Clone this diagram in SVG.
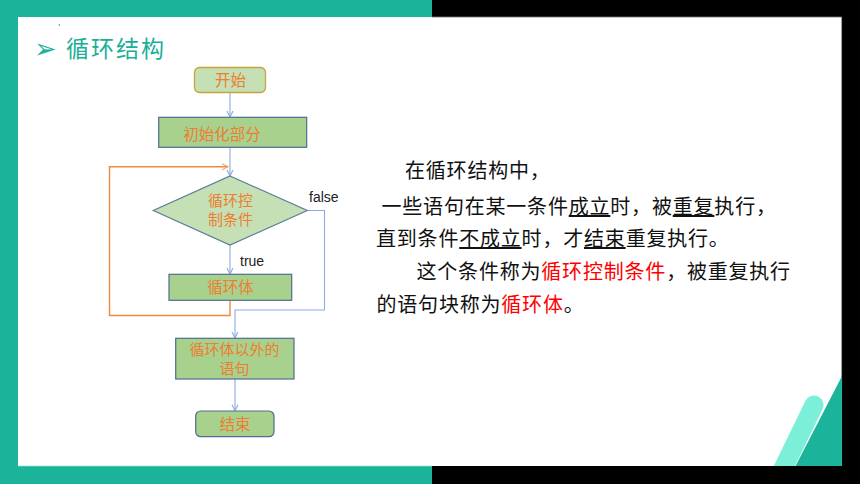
<svg xmlns="http://www.w3.org/2000/svg" width="860" height="484" viewBox="0 0 860 484">
<defs>
<style>
.teal{fill:#1BB39A}
.blk{fill:#000}
.node-light{fill:#C5E0B4;stroke:#5B7C99;stroke-width:1.2}
.node-dark{fill:#A9D18E;stroke:#4F6D8F;stroke-width:1.2}
.lbl{font-family:"Noto Sans CJK SC","Noto Sans",sans-serif;font-size:15.5px;fill:#ED7D31;text-anchor:middle}
.lbl2{font-family:"Noto Sans CJK SC","Noto Sans",sans-serif;font-size:15px;fill:#ED7D31;text-anchor:middle}
.en{font-family:"Liberation Sans","Noto Sans",sans-serif;font-size:14px;fill:#222}
.conn{fill:none;stroke:#8FAADC;stroke-width:1.1}
.loop{fill:none;stroke:#F08A3C;stroke-width:1.4}
.body{font-family:"Noto Sans CJK SC","Noto Sans",sans-serif;font-size:20px;fill:#111;letter-spacing:0.8px}
.red{fill:#FF0000}
.u{text-decoration:underline}
</style>
<marker id="arr" viewBox="0 0 8 8" refX="7" refY="4" markerWidth="8" markerHeight="8" markerUnits="userSpaceOnUse" orient="auto">
<path d="M1,1 L7,4 L1,7" fill="none" stroke="#8FAADC" stroke-width="1.1"/>
</marker>
<marker id="arrO" viewBox="0 0 8 8" refX="7" refY="4" markerWidth="8" markerHeight="8" markerUnits="userSpaceOnUse" orient="auto">
<path d="M1,1 L7,4 L1,7" fill="none" stroke="#F4A46A" stroke-width="1.1"/>
</marker>
<clipPath id="card"><rect x="18" y="17" width="824" height="449"/></clipPath>
</defs>

<g id="background">
<rect x="0" y="0" width="860" height="484" class="blk"/>
<rect x="0" y="0" width="432" height="17" class="teal"/>
<rect x="0" y="0" width="18" height="484" class="teal"/>
<rect x="0" y="466" width="432" height="18" class="teal"/>
<rect x="18" y="17" width="824" height="449" fill="#FFFFFF"/>
<line x1="432" y1="17" x2="841.6" y2="17" stroke="#777" stroke-width="0.8"/>
<line x1="841.6" y1="17" x2="841.6" y2="466" stroke="#777" stroke-width="0.8"/>
<line x1="18" y1="466.2" x2="432" y2="466.2" stroke="#6CD3C2" stroke-width="0.8"/>
<rect x="58.8" y="24" width="1" height="2" fill="#888"/>
<g clip-path="url(#card)">
<polygon points="842,376 795,467 842,467" class="teal"/>
<line x1="814" y1="405" x2="780" y2="475" stroke="#7BEFD8" stroke-width="19" stroke-linecap="round"/>
</g>
</g>

<g id="title">
<text x="34" y="57.5" font-family="DejaVu Sans,sans-serif" font-size="27" fill="#1BB39A">➢</text>
<text x="66" y="57" font-family="Noto Sans CJK SC,sans-serif" font-size="23" fill="#1BAE98" letter-spacing="2">循环结构</text>
</g>

<g id="connectors">
<line x1="230" y1="92.5" x2="230" y2="117" class="conn" marker-end="url(#arr)"/>
<line x1="230" y1="147.5" x2="230" y2="176" class="conn" marker-end="url(#arr)"/>
<line x1="230" y1="245" x2="230" y2="274" class="conn" marker-end="url(#arr)"/>
<polyline points="230,300.5 230,315.5 109.5,315.5 109.5,166.7 228,166.7" class="loop" marker-end="url(#arrO)"/>
<polyline points="307.3,210.5 324.5,210.5 324.5,310 235,310 235,338" class="conn" marker-end="url(#arr)"/>
<line x1="235" y1="379" x2="235" y2="410.8" class="conn" marker-end="url(#arr)"/>
<text x="240" y="266" class="en">true</text>
<text x="309" y="202" class="en">false</text>
</g>

<g id="node-start">
<rect x="194.5" y="67.5" width="71" height="25" rx="5" fill="#C5E0B4" stroke="#C9A33B" stroke-width="1.3"/>
<text x="230.5" y="86" class="lbl">开始</text>
</g>

<g id="node-init">
<rect x="158.7" y="117.3" width="148" height="30" class="node-dark"/>
<text x="222" y="139.5" class="lbl">初始化部分</text>
</g>

<g id="node-cond">
<polygon points="230,176 307.3,210.5 230,245 153.3,210.5" class="node-light"/>
<text class="lbl2"><tspan x="230.5" y="206">循环控</tspan><tspan x="230.5" y="225">制条件</tspan></text>
</g>

<g id="node-body">
<rect x="169" y="274.3" width="122.7" height="26" class="node-dark"/>
<text x="230.5" y="293" class="lbl">循环体</text>
</g>

<g id="node-after">
<rect x="175.7" y="338.3" width="118.3" height="40.7" class="node-dark"/>
<text class="lbl2"><tspan x="234.5" y="355">循环体以外的</tspan><tspan x="234.5" y="374">语句</tspan></text>
</g>

<g id="node-end">
<rect x="195.7" y="411" width="78.3" height="25.7" rx="5" class="node-dark"/>
<text x="235" y="430" class="lbl">结束</text>
</g>

<g id="description">
<text x="405" y="178" class="body">在循环结构中，</text>
<text x="381.5" y="214" class="body">一些语句在某一条件<tspan class="u">成立</tspan>时，被<tspan class="u">重复</tspan>执行，</text>
<text x="376" y="246" class="body">直到条件<tspan class="u">不成立</tspan>时，才<tspan class="u">结束</tspan>重复执行。</text>
<text x="416.5" y="279" class="body">这个条件称为<tspan class="red">循环控制条件</tspan>，被重复执行</text>
<text x="376.5" y="312" class="body">的语句块称为<tspan class="red">循环体</tspan>。</text>
</g>
</svg>
